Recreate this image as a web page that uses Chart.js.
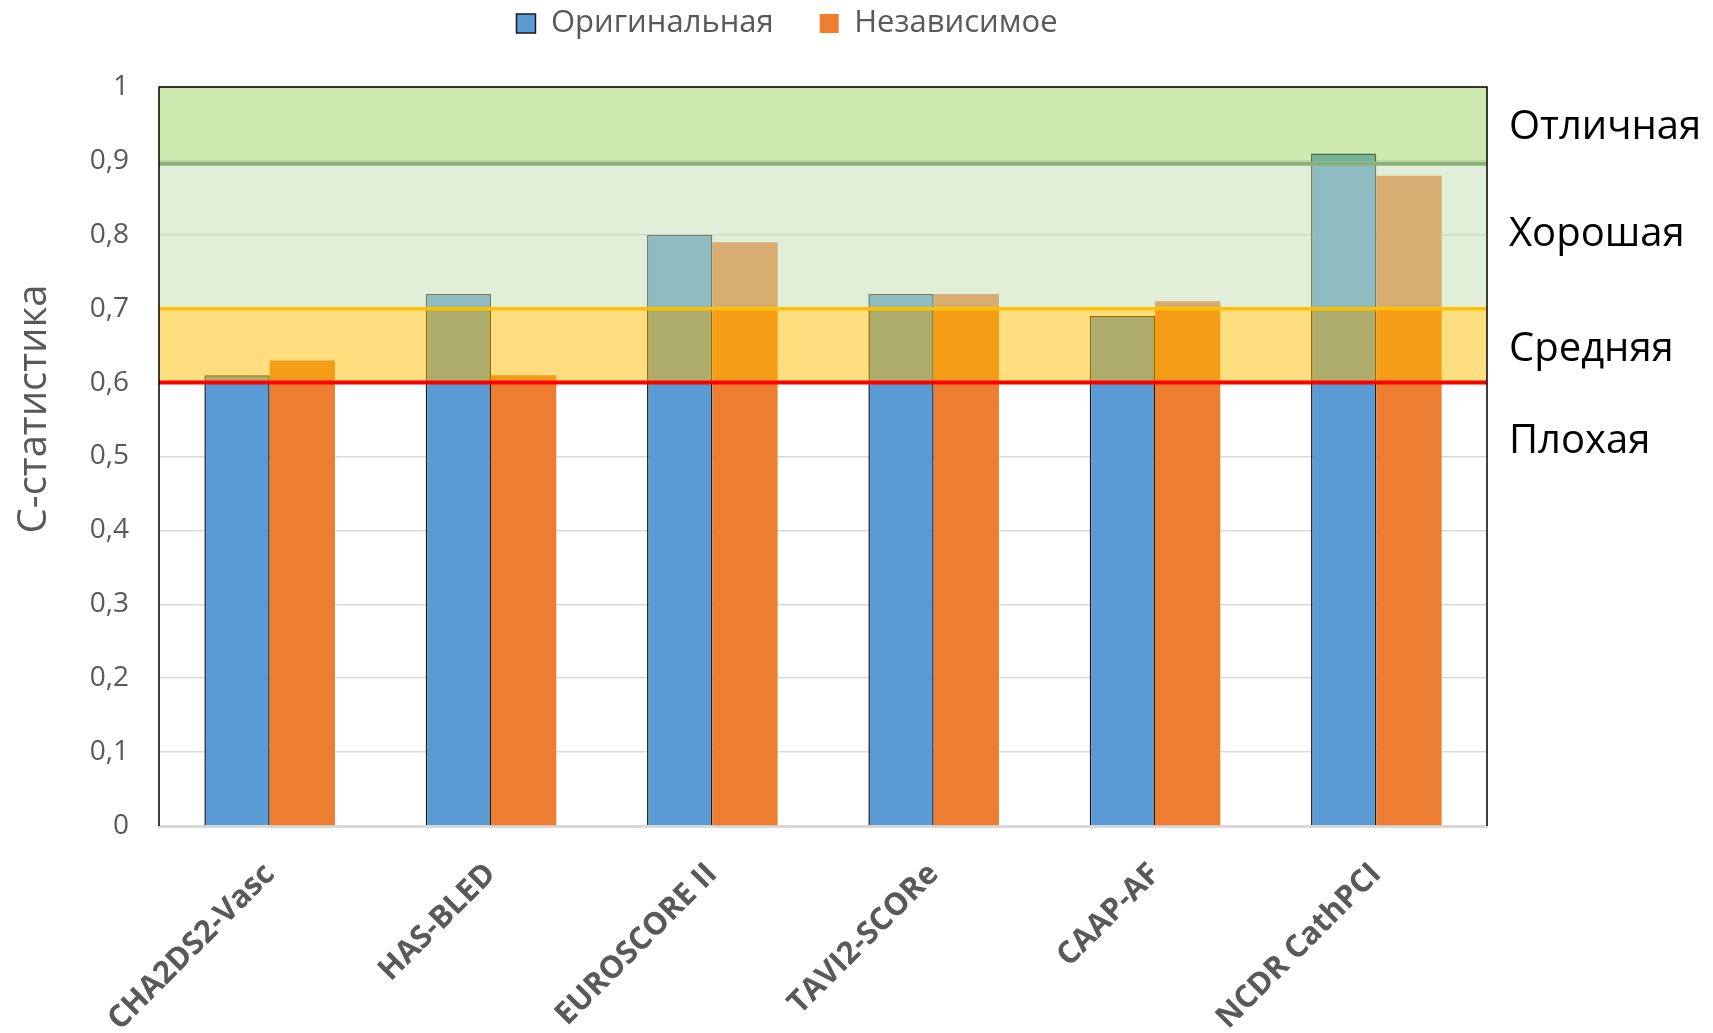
<!DOCTYPE html>
<html lang="ru">
<head>
<meta charset="UTF-8">
<title>C-статистика</title>
<script src="https://cdn.jsdelivr.net/npm/chart.js"></script>
<style>
    html, body { margin: 0; padding: 0; background: #fff; }
    .chart-box { width: 1713px; height: 1033px; position: relative; }
</style>
</head>
<body>
<div class="chart-box"><canvas id="cStat"></canvas></div>
<script>
    // data
    const categories = ['CHA2DS2-Vasc', 'HAS-BLED', 'EUROSCORE II', 'TAVI2-SCORe', 'CAAP-AF', 'NCDR CathPCI'];
    const seriesNames = ['Оригинальная', 'Независимое'];
    const originalValues = [0.61, 0.72, 0.80, 0.72, 0.69, 0.91];
    const independentValues = [0.63, 0.61, 0.79, 0.72, 0.71, 0.88];
    const yTickStep = 0.1;
    const bandLimits = [0.6, 0.7, 0.9, 1.0];
    const bandNames = ['Отличная', 'Хорошая', 'Средняя', 'Плохая'];
    const bandNameAt = [0.945, 0.80, 0.645, 0.52];
    const yTitle = 'С-статистика';

    const GRAY = '#595959';
    Chart.defaults.font.family = "'Open Sans', sans-serif";

    function fmtTick(v) {
        if (Math.abs(v - Math.round(v)) < 1e-9) return String(Math.round(v));
        return v.toFixed(1).replace('.', ',');
    }

    // semi-transparent quality bands laid over the bars, plus the threshold lines
    const bandsPlugin = {
        id: 'bands',
        afterLayout(chart) {
            // pull the legend up to the top edge, keep the wide gap between items
            const lg = chart.legend;
            if (lg) { lg.top -= 38; lg.bottom -= 38; }
        },
        afterDatasetsDraw(chart) {
            const { ctx, chartArea: a, scales: { y } } = chart;
            const fills = [
                [bandLimits[0], bandLimits[1], 'rgba(255,190,0,0.5)'],
                [bandLimits[1], bandLimits[2], 'rgba(196,222,178,0.5)'],
                [bandLimits[2], bandLimits[3], 'rgba(146,208,80,0.45)']
            ];
            ctx.save();
            fills.forEach(([lo, hi, col]) => {
                const top = y.getPixelForValue(hi);
                const bot = y.getPixelForValue(lo);
                ctx.fillStyle = col;
                ctx.fillRect(a.left, top, a.right - a.left, bot - top);
            });
            const lines = [
                [bandLimits[2] - 0.004, '#8ab173', 4],
                [bandLimits[1], '#ffc000', 3.5],
                [bandLimits[0], '#ff0000', 4]
            ];
            lines.forEach(([v, col, w]) => {
                const py = y.getPixelForValue(v);
                ctx.strokeStyle = col;
                ctx.lineWidth = w;
                ctx.beginPath();
                ctx.moveTo(a.left, py);
                ctx.lineTo(a.right, py);
                ctx.stroke();
            });
            // plot outline (left, top, right)
            ctx.strokeStyle = '#000';
            ctx.lineWidth = 1.5;
            ctx.beginPath();
            ctx.moveTo(a.left, a.bottom);
            ctx.lineTo(a.left, a.top);
            ctx.lineTo(a.right, a.top);
            ctx.lineTo(a.right, a.bottom);
            ctx.stroke();
            ctx.restore();
        },
        afterDraw(chart) {
            const { ctx, scales: { y } } = chart;
            ctx.save();
            ctx.fillStyle = '#000';
            ctx.font = "40px 'Open Sans', sans-serif";
            ctx.textAlign = 'left';
            ctx.textBaseline = 'middle';
            bandNames.forEach((name, i) => {
                ctx.fillText(name, 1509, y.getPixelForValue(bandNameAt[i]));
            });
            // y axis title
            ctx.fillStyle = GRAY;
            ctx.font = "40px 'Open Sans', sans-serif";
            ctx.textAlign = 'center';
            ctx.translate(35, 409);
            ctx.rotate(-Math.PI / 2);
            ctx.fillText(yTitle, 0, 0);
            ctx.restore();
        }
    };

    const ctx = document.getElementById('cStat').getContext('2d');
    new Chart(ctx, {
        type: 'bar',
        data: {
            labels: categories,
            datasets: [{
                label: seriesNames[0],
                data: originalValues,
                backgroundColor: '#5b9bd5',
                borderColor: '#1a1a1a',
                borderWidth: 1.5,
                categoryPercentage: 0.59,
                barPercentage: 1.0
            }, {
                label: seriesNames[1],
                data: independentValues,
                backgroundColor: '#ed7d31',
                borderWidth: 0,
                categoryPercentage: 0.59,
                barPercentage: 1.0
            }]
        },
        options: {
            responsive: true,
            maintainAspectRatio: false,
            animation: false,
            layout: { padding: { top: 0, left: 87, right: 226, bottom: 0 } },
            plugins: {
                tooltip: { enabled: false },
                legend: {
                    position: 'top',
                    labels: {
                        color: GRAY,
                        font: { size: 31 },
                        boxWidth: 19,
                        boxHeight: 19,
                        padding: 46
                    }
                }
            },
            scales: {
                x: {
                    grid: { display: false, drawTicks: false },
                    border: { color: '#d9d9d9', width: 3 },
                    ticks: {
                        color: GRAY,
                        font: { size: 31, weight: 'bold' },
                        minRotation: 45,
                        maxRotation: 45,
                        autoSkip: false,
                        padding: 30
                    },
                    afterFit(s) {
                        s.height = 207;
                        s.paddingLeft = 0;
                        s.paddingRight = 0;
                    }
                },
                y: {
                    min: 0,
                    max: 1,
                    grid: { color: '#d9d9d9', lineWidth: 1.5, drawTicks: false },
                    border: { display: false },
                    ticks: {
                        stepSize: yTickStep,
                        color: GRAY,
                        font: { size: 28 },
                        padding: 30,
                        callback: v => fmtTick(v)
                    },
                    afterFit(s) {
                        s.width = 72;
                        s.paddingTop = 85;
                    }
                }
            }
        },
        plugins: [bandsPlugin]
    });
</script>
</body>
</html>
